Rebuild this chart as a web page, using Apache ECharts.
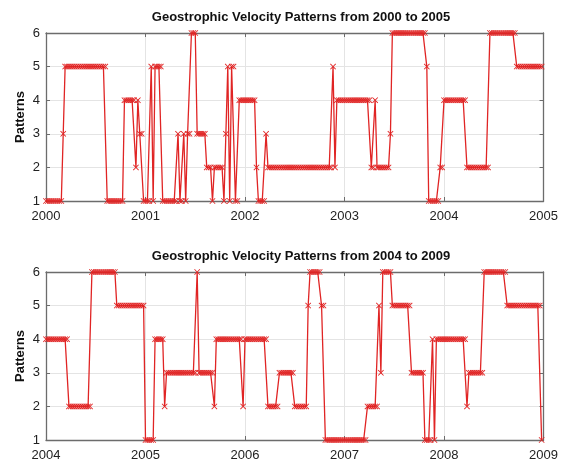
<!DOCTYPE html>
<html>
<head>
<meta charset="utf-8">
<script src="https://cdn.jsdelivr.net/npm/echarts@6/dist/echarts.min.js"></script>
<style>
  html, body { margin: 0; padding: 0; background: #fff; }
  #chart { width: 561px; height: 465px; }
</style>
</head>
<body>
<div id="chart"></div>
<script>
// weekly pattern values, 52 per year
const top2000 = [
  1,1,1,1,1,1,1,1,1,3,5,5,5,
  5,5,5,5,5,5,5,5,5,5,5,5,5,
  5,5,5,5,5,5,1,1,1,1,1,1,1,
  1,1,4,4,4,4,4,4,2,4,3,3,1
]
const top2001 = [
  1,1,1,5,1,5,5,5,5,1,1,1,1,
  1,1,1,1,3,1,1,3,1,3,3,6,6,
  6,3,3,3,3,3,2,2,2,1,2,2,2,
  2,2,1,3,5,1,5,5,1,1,4,4,4
]
const top2002 = [
  4,4,4,4,4,4,2,1,1,1,1,3,2,
  2,2,2,2,2,2,2,2,2,2,2,2,2,
  2,2,2,2,2,2,2,2,2,2,2,2,2,
  2,2,2,2,2,2,2,5,2,4,4,4,4
]
const top2003 = [
  4,4,4,4,4,4,4,4,4,4,4,4,4,
  4,2,2,4,2,2,2,2,2,2,2,3,6,
  6,6,6,6,6,6,6,6,6,6,6,6,6,
  6,6,6,6,5,1,1,1,1,1,1,2,2
]
const top2004 = [
  4,4,4,4,4,4,4,4,4,4,4,4,2,
  2,2,2,2,2,2,2,2,2,2,2,6,6,
  6,6,6,6,6,6,6,6,6,6,6,6,5,
  5,5,5,5,5,5,5,5,5,5,5,5,5
]

const bottom2004 = [
  4,4,4,4,4,4,4,4,4,4,4,4,2,
  2,2,2,2,2,2,2,2,2,2,2,6,6,
  6,6,6,6,6,6,6,6,6,6,6,5,5,
  5,5,5,5,5,5,5,5,5,5,5,5,5
]
const bottom2005 = [
  1,1,1,1,1,4,4,4,4,4,2,3,3,
  3,3,3,3,3,3,3,3,3,3,3,3,3,
  3,6,3,3,3,3,3,3,3,3,2,4,4,
  4,4,4,4,4,4,4,4,4,4,4,4,2
]
const bottom2006 = [
  4,4,4,4,4,4,4,4,4,4,4,4,2,
  2,2,2,2,2,3,3,3,3,3,3,3,3,
  2,2,2,2,2,2,2,5,6,6,6,6,6,
  6,5,5,1,1,1,1,1,1,1,1,1,1
]
const bottom2007 = [
  1,1,1,1,1,1,1,1,1,1,1,1,2,
  2,2,2,2,2,5,3,6,6,6,6,6,5,
  5,5,5,5,5,5,5,5,5,3,3,3,3,
  3,3,3,1,1,1,1,4,1,4,4,4,4
]
const bottom2008 = [
  4,4,4,4,4,4,4,4,4,4,4,4,2,
  3,3,3,3,3,3,3,3,6,6,6,6,6,
  6,6,6,6,6,6,6,5,5,5,5,5,5,
  5,5,5,5,5,5,5,5,5,5,5,5,1
]

const topYears = [2000, 2001, 2002, 2003, 2004]
const topValues = [top2000, top2001, top2002, top2003, top2004]
const bottomYears = [2004, 2005, 2006, 2007, 2008]
const bottomValues = [bottom2004, bottom2005, bottom2006, bottom2007, bottom2008]

const toPairs = (years, values) => {
  const out = []
  years.forEach((y, k) => {
    values[k].forEach((v, i) => out.push([y + i / 52, v]))
  })
  return out
}

const RED = '#e02424'
const FRAME = '#6c6c6c'
const FONT = 'Liberation Sans, Arial, sans-serif'
const xMark = 'path://M0,1L1,0L5,4L9,0L10,1L6,5L10,9L9,10L5,6L1,10L0,9L4,5Z'

const grids = [
  { left: 46, top: 33, width: 501, height: 168 },
  { left: 46, top: 272, width: 501, height: 168 }
]
const ranges = [[2000, 2005], [2004, 2009]]

const xAxes = []
const yAxes = []
ranges.forEach((r, g) => {
  xAxes.push({
    type: 'value', gridIndex: g, min: r[0], max: r[1], interval: 1,
    axisLine: { show: true, lineStyle: { color: FRAME, width: 1.3 } },
    axisTick: { show: true, inside: true, length: 4, lineStyle: { color: FRAME } },
    axisLabel: {
      color: '#222', fontSize: 13, fontFamily: FONT, margin: 9,
      alignMinLabel: 'center', alignMaxLabel: 'center', hideOverlap: false,
      formatter: v => String(v)
    },
    splitLine: { show: true, lineStyle: { color: '#e4e4e4' } }
  })
  xAxes.push({
    type: 'value', gridIndex: g, position: 'top', min: r[0], max: r[1], interval: 1,
    axisLine: { show: true, lineStyle: { color: FRAME, width: 1.3 } },
    axisTick: { show: true, inside: true, length: 4, lineStyle: { color: FRAME } },
    axisLabel: { show: false }, splitLine: { show: false }
  })
  yAxes.push({
    type: 'value', gridIndex: g, min: 1, max: 6, interval: 1,
    name: 'Patterns', nameLocation: 'middle', nameGap: 19, nameMoveOverlap: false,
    nameTextStyle: { fontSize: 13, fontWeight: 'bold', color: '#111', fontFamily: FONT },
    axisLine: { show: true, lineStyle: { color: FRAME, width: 1.3 } },
    axisTick: { show: true, inside: true, length: 4, lineStyle: { color: FRAME } },
    axisLabel: { color: '#222', fontSize: 13, fontFamily: FONT, margin: 6 },
    splitLine: { show: true, lineStyle: { color: '#e4e4e4' } }
  })
  yAxes.push({
    type: 'value', gridIndex: g, position: 'right', min: 1, max: 6, interval: 1,
    axisLine: { show: true, lineStyle: { color: FRAME, width: 1.3 } },
    axisTick: { show: true, inside: true, length: 4, lineStyle: { color: FRAME } },
    axisLabel: { show: false }, splitLine: { show: false }
  })
})

const makeSeries = (data, g) => ({
  type: 'line',
  xAxisIndex: g * 2,
  yAxisIndex: g * 2,
  data,
  symbol: xMark,
  symbolSize: 6,
  showAllSymbol: true,
  itemStyle: { color: RED },
  lineStyle: { color: RED, width: 1.3 },
  animation: false
})

const chart = echarts.init(document.getElementById('chart'))
chart.setOption({
  backgroundColor: '#fff',
  animation: false,
  title: [
    {
      text: 'Geostrophic Velocity Patterns from 2000 to 2005',
      left: 296, top: 6, textAlign: 'center',
      textStyle: { fontSize: 13, fontWeight: 'bold', color: '#111', fontFamily: FONT }
    },
    {
      text: 'Geostrophic Velocity Patterns from 2004 to 2009',
      left: 296, top: 245, textAlign: 'center',
      textStyle: { fontSize: 13, fontWeight: 'bold', color: '#111', fontFamily: FONT }
    }
  ],
  grid: grids,
  xAxis: xAxes,
  yAxis: yAxes,
  series: [
    makeSeries(toPairs(topYears, topValues), 0),
    makeSeries(toPairs(bottomYears, bottomValues), 1)
  ]
})
</script>
</body>
</html>
